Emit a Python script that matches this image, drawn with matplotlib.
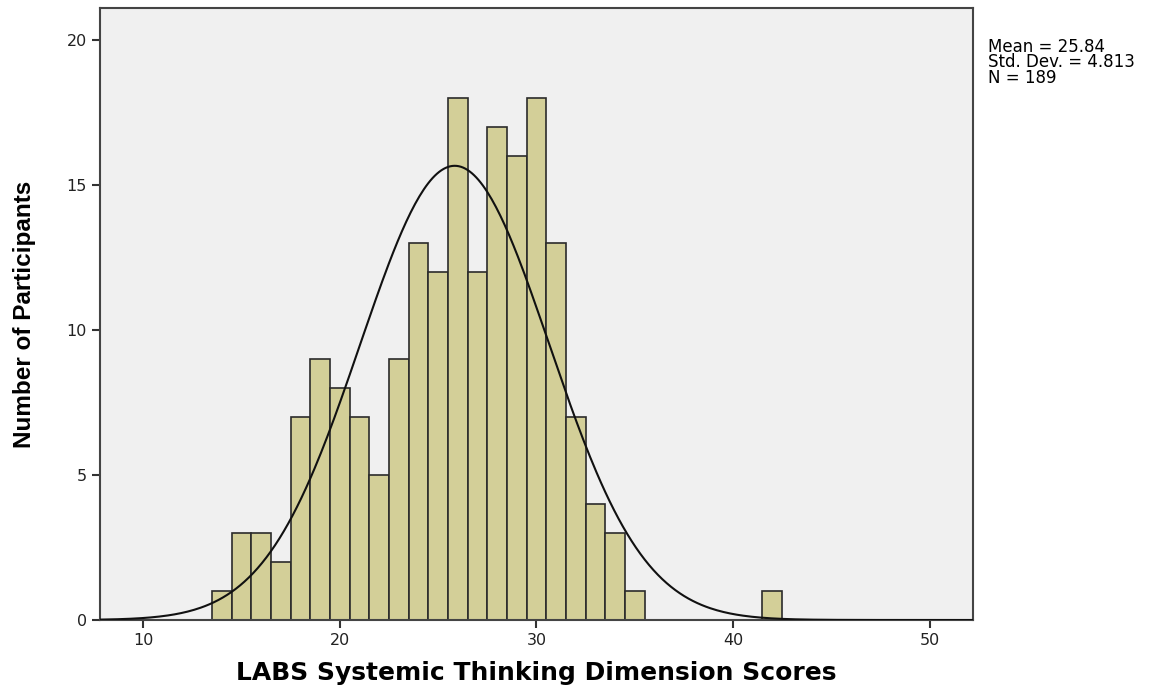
import numpy as np
import matplotlib
matplotlib.use("Agg")
import matplotlib.pyplot as plt
from matplotlib.font_manager import FontProperties

# histogram counts, bins of width 1 centred on integer scores
scores = [14, 15, 16, 17, 18, 19, 20, 21, 22, 23, 24, 25, 26, 27, 28, 29,
          30, 31, 32, 33, 34, 35, 42]
counts = [1, 3, 3, 2, 7, 9, 8, 7, 5, 9, 13, 12, 18, 12, 17, 16,
          18, 13, 7, 4, 3, 1, 1]

mean = 25.84
std = 4.813
n = 189
bin_width = 1.0

x_ticks = [10, 20, 30, 40, 50]
y_ticks = [0, 5, 10, 15, 20]

plt.rcParams['font.family'] = ['DejaVu Sans']

fig = plt.figure(figsize=(11.72, 6.87), dpi=100)
ax = fig.add_axes([0.0853, 0.0975, 0.7447, 0.8905])
ax.set_facecolor('#f0f0f0')

ax.bar(scores, counts, width=bin_width, color='#d3cf98', edgecolor='#2b2b2b',
       linewidth=1.2, zorder=2)

# fitted normal curve
xs = np.linspace(7.8, 52.2, 400)
ys = n * bin_width / (std * np.sqrt(2 * np.pi)) * np.exp(-0.5 * ((xs - mean) / std) ** 2)
ax.plot(xs, ys, color='#111111', linewidth=1.5, zorder=3)

ax.set_xlim(7.79, 52.2)
ax.set_ylim(0, 21.1)
ax.set_xticks(x_ticks)
ax.set_yticks(y_ticks)
ax.tick_params(direction='out', length=6, width=1.5, color='#333333',
               labelsize=11.5, labelcolor='#222222')
for s in ax.spines.values():
    s.set_color('#444444')
    s.set_linewidth(1.5)

ax.set_xlabel('LABS Systemic Thinking Dimension Scores', fontsize=18,
              fontweight='bold', labelpad=9)
ylab_font = FontProperties(family='Liberation Sans', weight='bold', size=17.5)
ax.set_ylabel('Number of Participants', fontproperties=ylab_font, labelpad=22)

fig.text(0.843, 0.945, 'Mean = 25.84\nStd. Dev. = 4.813\nN = 189',
         fontsize=12, va='top', ha='left', linespacing=0.82)

fig.savefig('out.png', dpi=100)
